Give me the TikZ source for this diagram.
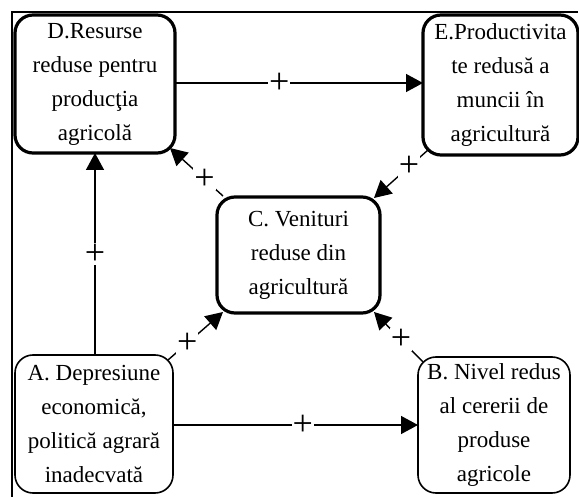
\documentclass[tikz,border=0pt]{standalone}
\usepackage{fontspec}
\setmainfont{Liberation Serif}
\usetikzlibrary{arrows.meta,calc}
\begin{document}
\begin{tikzpicture}[x=1pt,y=-1pt,
  boxtxt/.style={align=center,font=\fontsize{23}{34}\selectfont,rounded corners=18pt,outer sep=0pt,inner sep=0pt},
  thickbox/.style={boxtxt,draw,line width=3.2pt},
  thinbox/.style={boxtxt,draw,line width=1.6pt},
  conn/.style={line width=1.4pt,-{Triangle[length=17pt,width=18pt]}},
  plus/.style={fill=white,inner sep=1pt,font=\fontsize{36}{36}\selectfont}]
\useasboundingbox (0,0) rectangle (579,497);
\draw[line width=2pt] (12,497) -- (12,12.5) -- (578,12.5);
\node[thickbox,minimum width=160pt,minimum height=138pt] (D) at (95,84) {D.Resurse\\reduse pentru\\producţia\\agricolă};
\node[thickbox,minimum width=155pt,minimum height=140pt] (E) at (500.5,85) {E.Productivita\\te redusă a\\muncii în\\agricultură};
\node[thickbox,minimum width=163pt,minimum height=116pt] (C) at (298.5,255) {C. Venituri\\reduse din\\agricultură};
\node[thinbox,minimum width=158pt,minimum height=138pt] (A) at (94,424) {A. Depresiune\\economică,\\politică agrară\\inadecvată};
\node[thinbox,minimum width=152pt,minimum height=136pt] (B) at (494,425) {B. Nivel redus\\al cererii de\\produse\\agricole};
\draw[conn] (D.east |- 0,83) -- node[plus,pos=0.42]{+} (E.west |- 0,83);
\draw[conn] (A.north -| 95,0) -- node[plus,pos=0.5]{+} (D.south -| 95,0);
\draw[conn] (A.east |- 0,425) -- node[plus,pos=0.53]{+} (B.west |- 0,425);
\draw[conn] ($(C.north west)+(6,-1)$) -- node[plus,pos=0.35]{+} ($(D.south east)+(-5,-5)$);
\draw[conn] ($(E.south west)+(5,-5)$) -- node[plus,pos=0.35]{+} ($(C.north east)+(-6,1)$);
\draw[conn] ($(A.north east)+(-5,5)$) -- node[plus,pos=0.35]{+} ($(C.south west)+(6,-1)$);
\draw[conn] ($(B.north west)+(5,5)$) -- node[plus,pos=0.45]{+} ($(C.south east)+(-6,-1)$);
\end{tikzpicture}
\end{document}
